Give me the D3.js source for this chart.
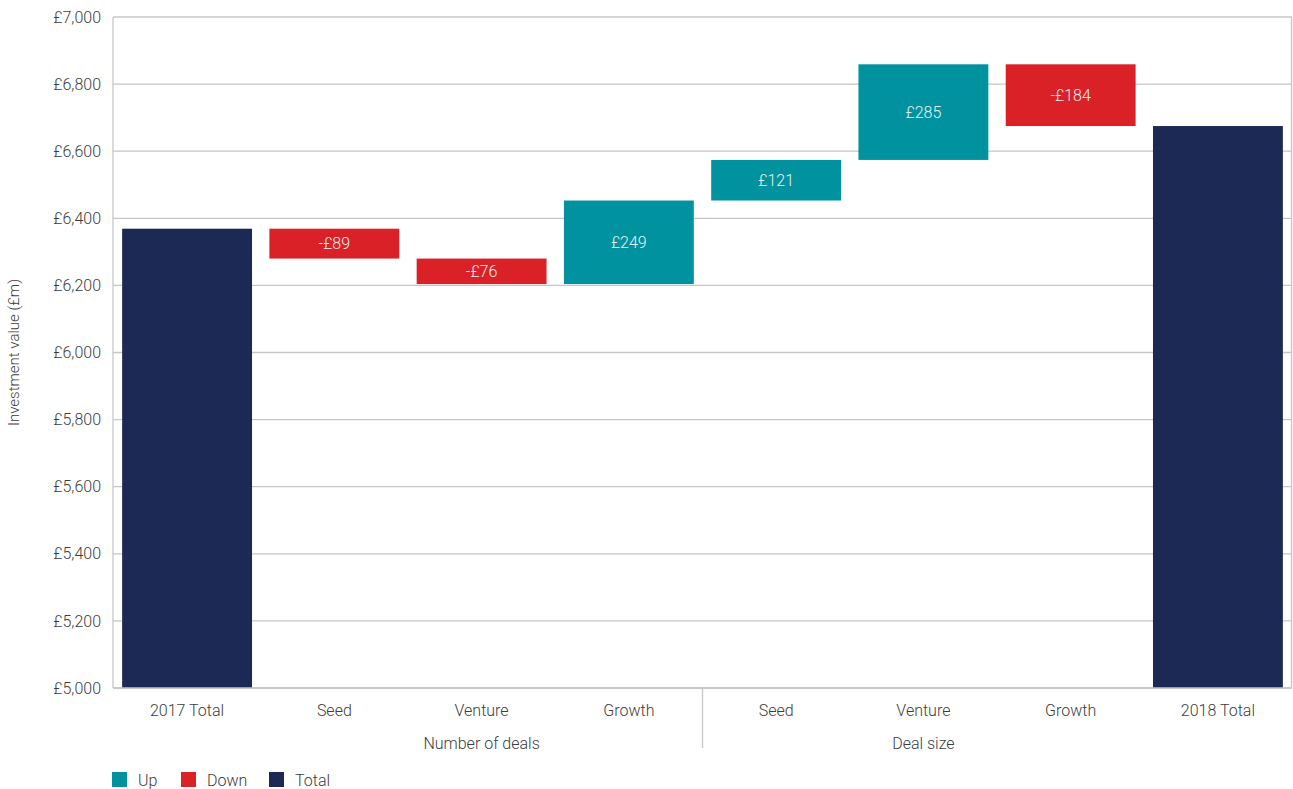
<!DOCTYPE html>
<html>
<head>
<meta charset="utf-8">
<script src="https://cdn.jsdelivr.net/npm/d3@7"></script>
<style>
  body { margin: 0; background: #fff; }
  text { font-family: Roboto, "Open Sans", sans-serif; font-weight: 300; fill: #3c3c3c; }
</style>
</head>
<body>
<div class="chart-area"></div>
<script>
// data
let categories = ["2017 Total", "Seed", "Venture", "Growth", "Seed", "Venture", "Growth", "2018 Total"];
let changes = [6369, -89, -76, 249, 121, 285, -184, null];
let kinds = ["total", "down", "down", "up", "up", "up", "down", "total"];
let groups = [
    {label: "Number of deals", from: 1, to: 3},
    {label: "Deal size", from: 4, to: 6}
];
let yTicks = [5000, 5200, 5400, 5600, 5800, 6000, 6200, 6400, 6600, 6800, 7000];
let legendItems = [["Up", "up"], ["Down", "down"], ["Total", "total"]];

let colors = {up: "#00929e", down: "#da2128", total: "#1c2955"};

let W = 1293, H = 789;
let margin = {top: 17, right: 1, left: 113, bottom: 101};

let svg = d3.select(".chart-area").append("svg")
    .attr("width", W)
    .attr("height", H);

// build waterfall steps
let bars = [];
let running = 0;
for (let i = 0; i < categories.length; i++) {
    if (kinds[i] === "total") {
        if (changes[i] !== null) running = changes[i];
        bars.push({i: i, y0: 5000, y1: running, kind: "total", v: null});
    } else {
        let start = running;
        running = running + changes[i];
        bars.push({i: i, y0: start, y1: running, kind: kinds[i], v: changes[i]});
    }
}

let x = d3.scaleBand()
    .domain(d3.range(categories.length))
    .range([margin.left, W - margin.right])
    .paddingInner(0.118)
    .paddingOuter(0.062);

let y = d3.scaleLinear()
    .domain([5000, 7000])
    .range([H - margin.bottom, margin.top]);

// gridlines
svg.append("g").selectAll("line").data(yTicks).enter().append("line")
    .attr("x1", margin.left)
    .attr("x2", W - margin.right)
    .attr("y1", d => y(d))
    .attr("y2", d => y(d))
    .attr("stroke", "#c6c6ca")
    .attr("stroke-width", 1.3);

// borders left/right
svg.append("line")
    .attr("x1", margin.left).attr("x2", margin.left)
    .attr("y1", margin.top).attr("y2", H - margin.bottom)
    .attr("stroke", "#c6c6ca").attr("stroke-width", 1.3);
svg.append("line")
    .attr("x1", W - margin.right - 0.5).attr("x2", W - margin.right - 0.5)
    .attr("y1", margin.top).attr("y2", H - margin.bottom)
    .attr("stroke", "#c6c6ca").attr("stroke-width", 1.3);

// y tick labels
let fmt = d3.format(",");
svg.append("g").selectAll("text").data(yTicks).enter().append("text")
    .attr("x", 101)
    .attr("y", d => y(d))
    .attr("dy", "0.35em")
    .attr("text-anchor", "end")
    .attr("font-size", 16)
    .text(d => "£" + fmt(d));

svg.append("text")
    .attr("transform", "translate(19," + ((margin.top + H - margin.bottom) / 2) + ") rotate(-90)")
    .attr("text-anchor", "middle")
    .attr("font-size", 15)
    .text("Investment value (£m)");

// bars
svg.append("g").selectAll("rect").data(bars).enter().append("rect")
    .attr("x", d => x(d.i))
    .attr("width", x.bandwidth())
    .attr("y", d => y(Math.max(d.y0, d.y1)))
    .attr("height", d => Math.abs(y(d.y0) - y(d.y1)))
    .attr("fill", d => colors[d.kind]);

// value labels
svg.append("g").selectAll("text").data(bars.filter(d => d.v !== null)).enter().append("text")
    .attr("x", d => x(d.i) + x.bandwidth() / 2)
    .attr("y", d => y((d.y0 + d.y1) / 2))
    .attr("dy", "0.35em")
    .attr("text-anchor", "middle")
    .attr("font-size", 16)
    .style("fill", "#e6f2f3")
    .text(d => (d.v < 0 ? "-£" : "£") + Math.abs(d.v));

// bottom axis line
svg.append("line")
    .attr("x1", margin.left).attr("x2", W - margin.right)
    .attr("y1", y(5000)).attr("y2", y(5000))
    .attr("stroke", "#c6c6ca").attr("stroke-width", 1.3);

// category labels
svg.append("g").selectAll("text").data(categories).enter().append("text")
    .attr("x", (d, i) => x(i) + x.bandwidth() / 2)
    .attr("y", 716)
    .attr("text-anchor", "middle")
    .attr("font-size", 16)
    .text(d => d);

// group labels + divider
svg.append("g").selectAll("text").data(groups).enter().append("text")
    .attr("x", d => (x(d.from) + x(d.to) + x.bandwidth()) / 2)
    .attr("y", 749)
    .attr("text-anchor", "middle")
    .attr("font-size", 16)
    .text(d => d.label);

let divX = (x(3) + x.bandwidth() + x(4)) / 2;
svg.append("line")
    .attr("x1", divX).attr("x2", divX)
    .attr("y1", y(5000)).attr("y2", 748)
    .attr("stroke", "#c6c6ca").attr("stroke-width", 1.3);

// legend
let legendX = [112, 181, 269];
let lg = svg.append("g").selectAll("g").data(legendItems).enter().append("g")
    .attr("transform", (d, i) => "translate(" + legendX[i] + ",772)");
lg.append("rect")
    .attr("width", 15).attr("height", 15)
    .attr("fill", d => colors[d[1]]);
lg.append("text")
    .attr("x", 26).attr("y", 8)
    .attr("dy", "0.35em")
    .attr("font-size", 16)
    .text(d => d[0]);
</script>
</body>
</html>
